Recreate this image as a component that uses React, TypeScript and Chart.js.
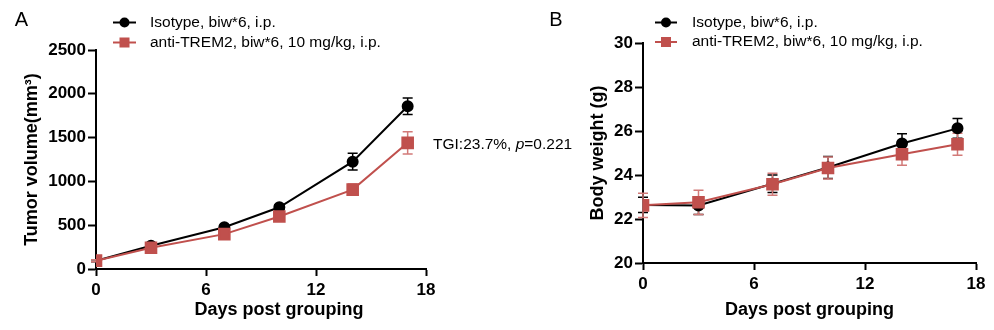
import React, { useEffect, useRef } from "react";
import { Chart, registerables } from "chart.js";

Chart.register(...registerables);

const FONT = "'Liberation Sans', Arial, Helvetica, sans-serif";

// ---------- data ----------
const days = [0, 3, 7, 10, 14, 17];
const xTicks = [0, 6, 12, 18];
const seriesNames = ["Isotype, biw*6, i.p.", "anti-TREM2, biw*6, 10 mg/kg, i.p."];

const tumorIsotype = [95, 265, 477, 705, 1225, 1858];
const tumorIsotypeErr = [12, 18, 22, 28, 95, 95];
const tumorTrem2 = [95, 242, 398, 600, 906, 1440];
const tumorTrem2Err = [12, 18, 22, 28, 65, 128];
const tumorYTicks = [0, 500, 1000, 1500, 2000, 2500];

const weightIsotype = [22.64, 22.61, 23.6, 24.34, 25.43, 26.12];
const weightIsotypeErr = [0.35, 0.4, 0.4, 0.5, 0.45, 0.45];
const weightTrem2 = [22.62, 22.76, 23.58, 24.32, 24.94, 25.4];
const weightTrem2Err = [0.55, 0.55, 0.5, 0.5, 0.5, 0.5];
const weightYTicks = [20, 22, 24, 26, 28, 30];

const tgiPercent = 23.7;
const pValue = 0.221;

const BLACK = "#000000";
const RED = "#c0504d";
const RED_ERR = "#d27a78";

// ---------- plugins ----------
const errorBarPlugin = {
  id: "errorBars",
  beforeDatasetsDraw(chart: any) {
    const ctx = chart.ctx;
    const xs = chart.scales.x;
    const ys = chart.scales.y;
    chart.data.datasets.forEach((ds: any) => {
      const errs = ds.errors;
      if (!errs) return;
      ctx.save();
      ctx.strokeStyle = ds.errorColor || ds.borderColor;
      ctx.lineWidth = 1.5;
      ds.data.forEach((p: any, i: number) => {
        const x = xs.getPixelForValue(p.x);
        const yTop = ys.getPixelForValue(p.y + errs[i]);
        const yBot = ys.getPixelForValue(p.y - errs[i]);
        ctx.beginPath();
        ctx.moveTo(x, yTop);
        ctx.lineTo(x, yBot);
        ctx.moveTo(x - 5, yTop);
        ctx.lineTo(x + 5, yTop);
        ctx.moveTo(x - 5, yBot);
        ctx.lineTo(x + 5, yBot);
        ctx.stroke();
      });
      ctx.restore();
    });
  },
};

type TextPart = { text: string; italic?: boolean };
type DecorCfg = {
  letter: string;
  letterX: number;
  letterY: number;
  legendX: number;
  legendLen: number;
  legendTextX: number;
  legendY: number;
  legendGap: number;
  xTitle?: { text: string; x: number; y: number };
  note?: { parts: TextPart[]; x: number; y: number };
};

function makeDecor(cfg: DecorCfg) {
  return {
    id: "decor",
    afterDraw(chart: any) {
      const ctx = chart.ctx;
      ctx.save();
      ctx.fillStyle = "#000";
      ctx.font = `20px ${FONT}`;
      ctx.textAlign = "center";
      ctx.textBaseline = "middle";
      ctx.fillText(cfg.letter, cfg.letterX, cfg.letterY);

      chart.data.datasets.forEach((ds: any, i: number) => {
        const y = cfg.legendY + i * cfg.legendGap;
        ctx.strokeStyle = ds.borderColor;
        ctx.lineWidth = 2;
        ctx.beginPath();
        ctx.moveTo(cfg.legendX, y);
        ctx.lineTo(cfg.legendX + cfg.legendLen, y);
        ctx.stroke();
        const cx = cfg.legendX + cfg.legendLen / 2;
        ctx.fillStyle = ds.pointBackgroundColor;
        if (ds.pointStyle === "rect") {
          ctx.fillRect(cx - 5, y - 5, 10, 10);
        } else {
          ctx.beginPath();
          ctx.arc(cx, y, 5, 0, Math.PI * 2);
          ctx.fill();
        }
        ctx.fillStyle = "#000";
        ctx.font = `15.5px ${FONT}`;
        ctx.textAlign = "left";
        ctx.textBaseline = "middle";
        ctx.fillText(ds.label, cfg.legendTextX, y);
      });

      if (cfg.xTitle) {
        ctx.fillStyle = "#000";
        ctx.font = `bold 18px ${FONT}`;
        ctx.textAlign = "center";
        ctx.textBaseline = "middle";
        ctx.fillText(cfg.xTitle.text, cfg.xTitle.x, cfg.xTitle.y);
      }

      if (cfg.note) {
        let x = cfg.note.x;
        ctx.fillStyle = "#000";
        ctx.textAlign = "left";
        ctx.textBaseline = "middle";
        cfg.note.parts.forEach((part) => {
          ctx.font = `${part.italic ? "italic " : ""}15.5px ${FONT}`;
          ctx.fillText(part.text, x, cfg.note!.y);
          x += ctx.measureText(part.text).width;
        });
      }
      ctx.restore();
    },
  };
}

function buildConfig(opts: {
  iso: number[];
  isoErr: number[];
  trem: number[];
  tremErr: number[];
  yTicks: number[];
  yTitle: string;
  yTitlePad: number;
  yWidth: number;
  xHeight: number;
  xTitle?: string;
  xTitlePad: number;
  padding: { left: number; top: number; right: number; bottom: number };
  decor: DecorCfg;
}) {
  const toPts = (vals: number[]) => days.map((d, i) => ({ x: d, y: vals[i] }));
  return {
    type: "line" as const,
    data: {
      datasets: [
        {
          label: seriesNames[0],
          data: toPts(opts.iso),
          errors: opts.isoErr,
          errorColor: BLACK,
          borderColor: BLACK,
          backgroundColor: BLACK,
          pointBackgroundColor: BLACK,
          pointBorderColor: BLACK,
          pointStyle: "circle",
          pointRadius: 5,
          borderWidth: 2,
          order: 1,
        },
        {
          label: seriesNames[1],
          data: toPts(opts.trem),
          errors: opts.tremErr,
          errorColor: RED_ERR,
          borderColor: RED,
          backgroundColor: RED,
          pointBackgroundColor: RED,
          pointBorderColor: RED,
          pointStyle: "rect",
          pointRadius: 7.5,
          borderWidth: 2,
          order: 0,
        },
      ],
    },
    options: {
      responsive: false,
      animation: false as const,
      events: [],
      layout: { padding: opts.padding },
      plugins: {
        legend: { display: false },
        tooltip: { enabled: false },
      },
      scales: {
        x: {
          type: "linear" as const,
          min: xTicks[0],
          max: xTicks[xTicks.length - 1],
          afterBuildTicks: (s: any) => {
            s.ticks = xTicks.map((v) => ({ value: v }));
          },
          afterFit: (s: any) => {
            s.height = opts.xHeight;
          },
          ticks: {
            color: "#000",
            font: { family: FONT, size: 17, weight: "bold" as const },
            padding: 4,
            maxRotation: 0,
            autoSkip: false,
            callback: (v: any) => String(v),
          },
          grid: {
            drawOnChartArea: false,
            drawTicks: true,
            tickLength: 7,
            tickWidth: 2,
            tickColor: "#000",
          },
          border: { display: true, color: "#000", width: 2 },
          title: {
            display: !!opts.xTitle,
            text: opts.xTitle || "",
            color: "#000",
            font: { family: FONT, size: 18, weight: "bold" as const },
            padding: { top: 0, bottom: opts.xTitlePad },
          },
        },
        y: {
          type: "linear" as const,
          min: opts.yTicks[0],
          max: opts.yTicks[opts.yTicks.length - 1],
          afterBuildTicks: (s: any) => {
            s.ticks = opts.yTicks.map((v) => ({ value: v }));
          },
          afterFit: (s: any) => {
            s.width = opts.yWidth;
          },
          ticks: {
            color: "#000",
            font: { family: FONT, size: 17, weight: "bold" as const },
            padding: 2,
            autoSkip: false,
            callback: (v: any) => String(v),
          },
          grid: {
            drawOnChartArea: false,
            drawTicks: true,
            tickLength: 8,
            tickWidth: 2,
            tickColor: "#000",
          },
          border: { display: true, color: "#000", width: 2 },
          title: {
            display: true,
            text: opts.yTitle,
            color: "#000",
            font: { family: FONT, size: 18, weight: "bold" as const },
            padding: { top: opts.yTitlePad, bottom: 0 },
          },
        },
      },
    },
    plugins: [errorBarPlugin, makeDecor(opts.decor)],
  };
}

function Panel(props: { left: number; width: number; config: any }) {
  const ref = useRef<HTMLCanvasElement | null>(null);
  useEffect(() => {
    if (!ref.current) return;
    const chart = new Chart(ref.current, props.config);
    return () => chart.destroy();
  }, []);
  return (
    <canvas
      ref={ref}
      width={props.width}
      height={330}
      style={{ position: "absolute", left: props.left, top: 0, width: props.width, height: 330 }}
    />
  );
}

export default function App() {
  const configA = buildConfig({
    iso: tumorIsotype,
    isoErr: tumorIsotypeErr,
    trem: tumorTrem2,
    tremErr: tumorTrem2Err,
    yTicks: tumorYTicks,
    yTitle: "Tumor volume(mm³)",
    yTitlePad: 21,
    yWidth: 96,
    xHeight: 61,
    xTitle: undefined,
    xTitlePad: 11,
    padding: { left: 0, top: 50, right: 154, bottom: 0 },
    decor: {
      letter: "A",
      letterX: 21.5,
      letterY: 20,
      legendX: 113,
      legendLen: 23,
      legendTextX: 150,
      legendY: 22.5,
      legendGap: 20,
      xTitle: { text: "Days post grouping", x: 279, y: 310 },
      note: {
        parts: [
          { text: `TGI:${tgiPercent}%, ` },
          { text: "p", italic: true },
          { text: `=${pValue}` },
        ],
        x: 433,
        y: 145,
      },
    },
  });

  const configB = buildConfig({
    iso: weightIsotype,
    isoErr: weightIsotypeErr,
    trem: weightTrem2,
    tremErr: weightTrem2Err,
    yTicks: weightYTicks,
    yTitle: "Body weight (g)",
    yTitlePad: 7,
    yWidth: 63,
    xHeight: 67,
    xTitle: "Days post grouping",
    xTitlePad: 9,
    padding: { left: 40, top: 43, right: 18, bottom: 0 },
    decor: {
      letter: "B",
      letterX: 16,
      letterY: 20,
      legendX: 115,
      legendLen: 22,
      legendTextX: 152,
      legendY: 22.5,
      legendGap: 19.5,
    },
  });

  return (
    <div
      style={{
        position: "fixed",
        left: 0,
        top: 0,
        width: 994,
        height: 330,
        background: "#fff",
        overflow: "hidden",
      }}
    >
      <Panel left={0} width={580} config={configA} />
      <Panel left={540} width={454} config={configB} />
    </div>
  );
}
